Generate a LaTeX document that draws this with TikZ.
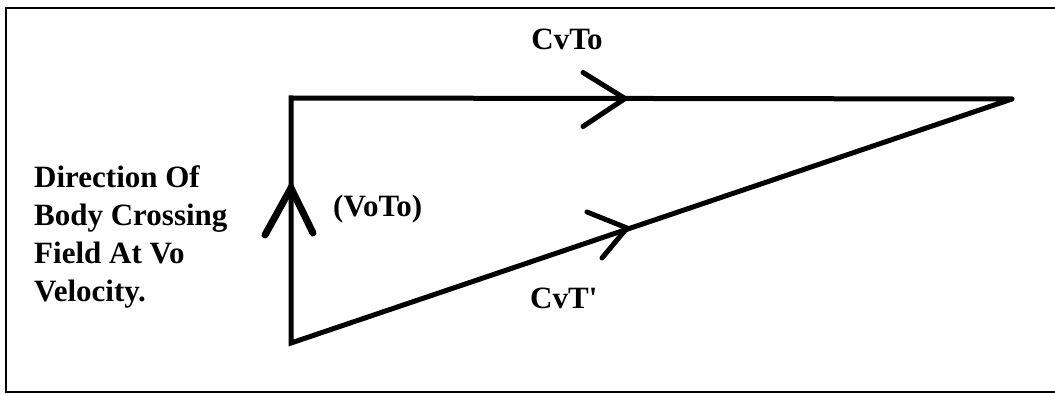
\documentclass[tikz,border=0pt]{standalone}
\usepackage{fontspec}
\setmainfont{Liberation Serif}[Ligatures=TeXOff]
\begin{document}
\begin{tikzpicture}[x=1pt,y=-1pt,
  frame/.style={line width=2.6pt},
  edge/.style={line width=5pt,line cap=round,line join=miter},
  chev/.style={line width=5pt,line cap=round,line join=miter},
  bigchev/.style={line width=7pt,line cap=round,line join=miter},
  lbl/.style={inner sep=0pt,font=\fontsize{31}{38}\selectfont\bfseries}]
\useasboundingbox (0,0) rectangle (1055,395);
% frame (left, top, bottom)
\draw[frame] (1055,8) -- (6,8) -- (6,392) -- (1055,392);
% vertices
\coordinate (tl) at (291,98);
\coordinate (tr) at (1012,99);
\coordinate (bl) at (291,343);
% sides
\draw[edge] (tr) -- (tl) -- (bl) -- (tr);
% arrow marks
\coordinate (m1) at (625,98.5);
\coordinate (m2) at (627,228);
\coordinate (m3) at (291,188);
\draw[chev] ([shift={(-42,-26)}]m1) -- (m1) -- ([shift={(-42,28)}]m1);
\draw[chev] ([shift={(-40,-16)}]m2) -- (m2) -- ([shift={(-25,30)}]m2);
\draw[bigchev] ([shift={(-26,47)}]m3) -- (m3) -- ([shift={(22,45)}]m3);
% labels
\node[lbl,anchor=base] (cvto) at (567,50) {CvTo};
\node[lbl,anchor=base west] (voto) at (333,217) {(VoTo)};
\node[lbl,anchor=base west] (cvtp) at (530,309) {CvT'};
\node[lbl,anchor=base west] (d1) at (34,188) {Direction Of};
\node[lbl,anchor=base west] (d2) at (34,226) {Body Crossing};
\node[lbl,anchor=base west] (d3) at (34,264) {Field At Vo};
\node[lbl,anchor=base west] (d4) at (34,302) {Velocity.};
\end{tikzpicture}
\end{document}
